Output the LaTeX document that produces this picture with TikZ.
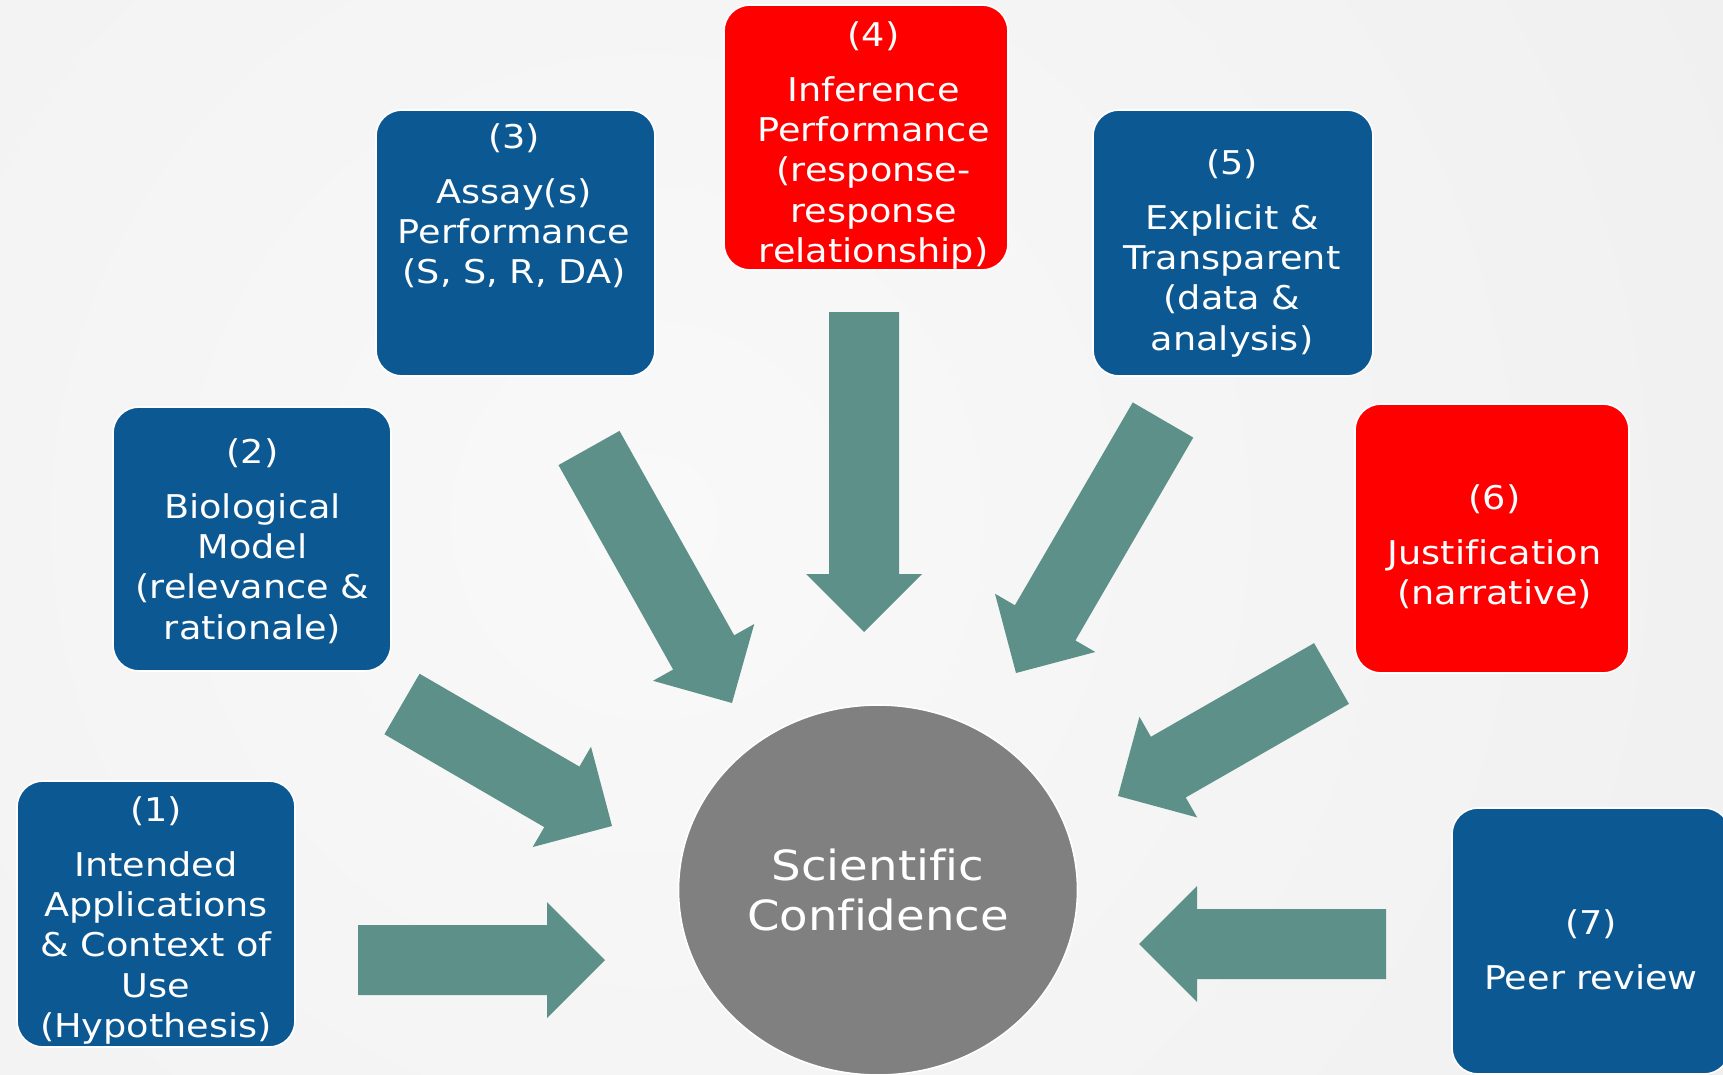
\documentclass[tikz,border=0pt]{standalone}
\usepackage{fontspec}
\setmainfont{DejaVu Sans}
\newfontfamily\slidefont[FakeStretch=1.12, Ligatures=NoCommon]{DejaVu Sans}
\usetikzlibrary{calc,shapes.geometric}

\definecolor{boxblue}{HTML}{0C5892}
\definecolor{boxred}{HTML}{FF0000}
\definecolor{flow}{HTML}{5C9088}
\definecolor{hubgray}{HTML}{808080}
\definecolor{bglight}{HTML}{F9F9F9}
\definecolor{bgdark}{HTML}{EDEDED}

\tikzset{
  panel/.style={rectangle, rounded corners=13pt, draw=white, line width=0.8pt,
    inner sep=0pt, minimum width=139pt, minimum height=133pt},
  bluepanel/.style={panel, fill=boxblue},
  redpanel/.style={panel, fill=boxred},
  caption/.style={text=white, align=center, anchor=north, inner sep=0pt,
    font=\slidefont\fontsize{16.35pt}{20.2pt}\selectfont},
  hubnode/.style={ellipse, fill=hubgray, draw=white, line width=0.8pt, inner sep=0pt,
    minimum width=199.5pt, minimum height=185pt, text=white, align=center,
    font=\slidefont\fontsize{20.8pt}{25.25pt}\selectfont},
}

% block arrow from a tail point to a tip point
\newcommand\flowarrow[2]{%
  \coordinate (#1b) at ($(#2)!29pt!(#1)$);
  \fill[flow] ($(#1)!17.5pt!90:(#2)$) -- ($(#1b)!17.5pt!90:(#2)$)
    -- ($(#1b)!29pt!90:(#2)$) -- (#2) -- ($(#1b)!29pt!-90:(#2)$)
    -- ($(#1b)!17.5pt!-90:(#2)$) -- ($(#1)!17.5pt!-90:(#2)$) -- cycle;}

\begin{document}
\begin{tikzpicture}[x=0.5pt, y=-0.5pt]
\useasboundingbox (0,0) rectangle (1723,1075);

% backdrop
\begin{scope}
  \clip (0,0) rectangle (1723,1075);
  \shade[inner color=bglight, outer color=bgdark] (650,520) circle (1600);
\end{scope}

% arrow end points
\coordinate (tailA) at (358,960);   \coordinate (tipA) at (605,960);
\coordinate (tailB) at (402,704);   \coordinate (tipB) at (612,826);
\coordinate (tailC) at (589,448);   \coordinate (tipC) at (732,703);
\coordinate (tailD) at (864,312);   \coordinate (tipD) at (864,632);
\coordinate (tailE) at (1163,420);  \coordinate (tipE) at (1016,673);
\coordinate (tailF) at (1331.5,673.5); \coordinate (tipF) at (1118,796);
\coordinate (tailG) at (1386,944);  \coordinate (tipG) at (1139,944);

\flowarrow{tailA}{tipA}
\flowarrow{tailB}{tipB}
\flowarrow{tailC}{tipC}
\flowarrow{tailD}{tipD}
\flowarrow{tailE}{tipE}
\flowarrow{tailF}{tipF}
\flowarrow{tailG}{tipG}

% boxes
\node[bluepanel] (b1) at (156,914) {};
\node[bluepanel, minimum height=132pt] (b2) at (252,539) {};
\node[bluepanel, minimum width=139.5pt] (b3) at (515.5,243) {};
\node[redpanel, minimum width=142pt, minimum height=132.5pt] (b4) at (866,137.5) {};
\node[bluepanel, minimum width=140pt] (b5) at (1233,243) {};
\node[redpanel, minimum width=137pt, minimum height=134.5pt] (b6) at (1492,538.5) {};
\node[bluepanel] (b7) at (1591,941) {};

% box texts
\node[caption] (t1) at (156,796) {(1)\\[7.2pt]Intended\\Applications\\\& Context of\\Use\\(Hypothesis)};
\node[caption] (t2) at (252.5,438) {(2)\\[7.2pt]Biological\\Model\\(relevance \&\\rationale)};
\node[caption] (t3) at (514,123) {(3)\\[7.2pt]Assay(s)\\Performance\\(S, S, R, DA)};
\node[caption] (t4) at (873.5,21) {(4)\\[7.2pt]Inference\\Performance\\(response-\\response\\relationship)};
\node[caption] (t5) at (1232,149) {(5)\\[7.2pt]Explicit \&\\Transparent\\(data \&\\analysis)};
\node[caption] (t6) at (1494.5,484) {(6)\\[7.2pt]Justification\\(narrative)};
\node[caption] (t7) at (1591,909.5) {(7)\\[7.2pt]Peer review};

% centre
\node[hubnode] (hub) at (878,890) {Scientific\\Confidence};
\end{tikzpicture}
\end{document}
